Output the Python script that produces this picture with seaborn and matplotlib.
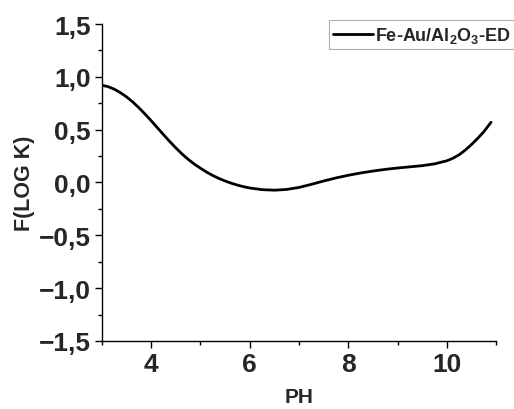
import matplotlib
matplotlib.use("Agg")
import matplotlib.pyplot as plt
import seaborn as sns
import pandas as pd
from matplotlib.ticker import MultipleLocator, FuncFormatter

ph = [3.0, 3.125, 3.25, 3.375, 3.5, 3.625, 3.75, 3.875, 4.0, 4.125, 4.25,
      4.375, 4.5, 4.625, 4.75, 4.875, 5.0, 5.125, 5.25, 5.375, 5.5, 5.625,
      5.75, 5.875, 6.0, 6.25, 6.5, 6.75, 7.0, 7.25, 7.5, 7.75, 8.0, 8.25,
      8.5, 8.75, 9.0, 9.25, 9.5, 9.75, 10.0, 10.125, 10.25, 10.375, 10.5,
      10.625, 10.75, 10.9]
logk = [0.92, 0.907, 0.883, 0.85, 0.81, 0.762, 0.707, 0.647, 0.584, 0.518,
        0.452, 0.388, 0.327, 0.27, 0.219, 0.174, 0.135, 0.098, 0.066, 0.038,
        0.014, -0.007, -0.025, -0.04, -0.052, -0.068, -0.073, -0.066, -0.047,
        -0.018, 0.014, 0.043, 0.068, 0.09, 0.108, 0.124, 0.137, 0.148, 0.159,
        0.176, 0.205, 0.229, 0.262, 0.306, 0.358, 0.416, 0.479, 0.57]
series_label = "Fe-Au/Al$_\\mathbf{2}$O$_\\mathbf{3}$-ED"
x_label = "PH"
y_label = "F(LOG K)"

sns.set_theme(style="ticks")
plt.rcParams["font.family"] = ["Liberation Sans", "DejaVu Sans"]
plt.rcParams["font.weight"] = "bold"
plt.rcParams["mathtext.fontset"] = "custom"
plt.rcParams["mathtext.bf"] = "Liberation Sans:bold"
plt.rcParams["mathtext.rm"] = "Liberation Sans:bold"
plt.rcParams["mathtext.default"] = "bf"

df = pd.DataFrame({"ph": ph, "logk": logk, "s": series_label})

fig = plt.figure(figsize=(5.14, 4.10), dpi=100)
ax = fig.add_axes([0.1984, 0.166, 0.9650 - 0.1984, 0.939 - 0.166])
sns.lineplot(data=df, x="ph", y="logk", hue="s", palette=["black"],
             linewidth=2.0, ax=ax, legend=True)
ax.lines[0].set_solid_capstyle("round")
ax.lines[0].set_solid_joinstyle("round")

ax.set_xlim(3, 11)
ax.set_ylim(-1.5, 1.5)
ax.xaxis.set_major_locator(MultipleLocator(2))
ax.xaxis.set_minor_locator(MultipleLocator(1))
ax.yaxis.set_major_locator(MultipleLocator(0.5))
ax.yaxis.set_minor_locator(MultipleLocator(0.25))

def fmt_y(v, pos):
    s = f"{v:.1f}".replace(".", ",")
    if s.startswith("-"):
        s = "\u2212" + s[1:]
    if s == "\u22120,0":
        s = "0,0"
    return s

ax.yaxis.set_major_formatter(FuncFormatter(fmt_y))
ax.xaxis.set_major_formatter(FuncFormatter(lambda v, p: f"{int(v)}"))

for sp in ["top", "right"]:
    ax.spines[sp].set_visible(False)
for sp in ["left", "bottom"]:
    ax.spines[sp].set_color("black")
    ax.spines[sp].set_linewidth(1.0)

ax.tick_params(axis="both", which="major", direction="out", length=5, width=1,
               labelsize=19, color="black", pad=3)
ax.tick_params(axis="both", which="minor", direction="out", length=3, width=1,
               color="black")
for lab in ax.get_xticklabels() + ax.get_yticklabels():
    lab.set_fontweight("bold")

ax.set_xlabel(x_label, fontsize=15, fontweight="bold", labelpad=8)
ax.set_ylabel(y_label, fontsize=15.5, fontweight="bold", labelpad=3)

leg = ax.legend(loc="upper right", bbox_to_anchor=(1.002, 0.948),
                bbox_transform=fig.transFigure, frameon=True, fancybox=False,
                fontsize=13, handlelength=2.2, handletextpad=0.1,
                borderpad=0.25, borderaxespad=0)
leg.get_frame().set_edgecolor("#999999")
leg.get_frame().set_linewidth(0.8)
for t in leg.get_texts():
    t.set_fontweight("bold")

fig.savefig("out.png", dpi=100)
